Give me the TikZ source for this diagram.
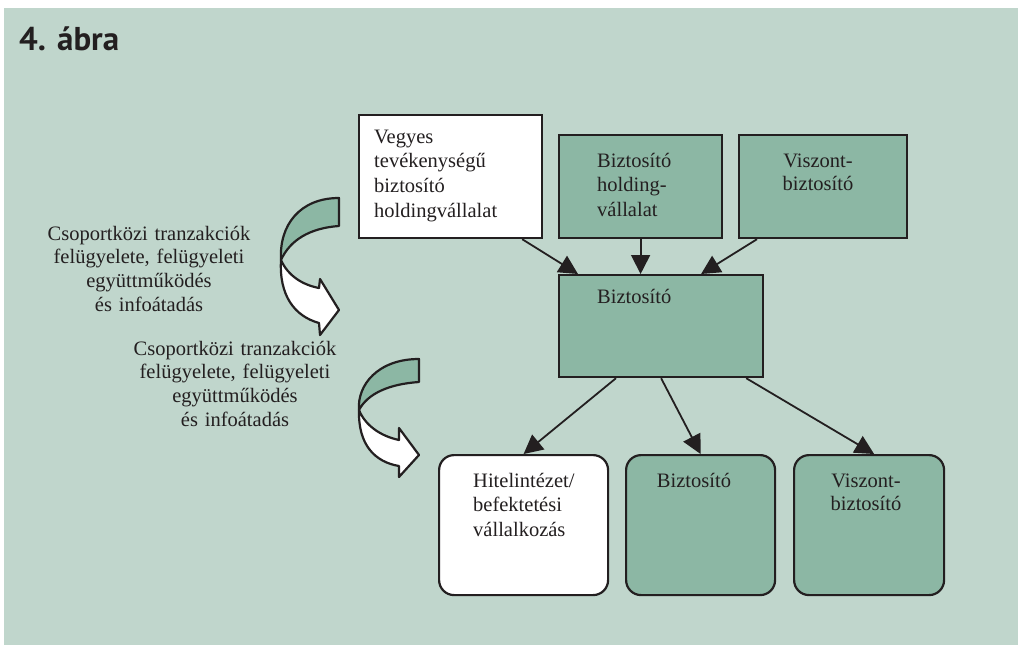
\documentclass[tikz,border=0pt]{standalone}
\usepackage{fontspec}
\setmainfont{Liberation Serif}
\newfontfamily\titlefont{PT Sans}
\usetikzlibrary{arrows.meta,calc}
\definecolor{bg}{RGB}{192,214,204}
\definecolor{boxgreen}{RGB}{140,183,164}
\definecolor{ink}{RGB}{35,31,32}
\begin{document}
\begin{tikzpicture}[x=1pt,y=-1pt,
  box/.style={draw=ink, line width=2.2pt, inner sep=0pt, anchor=north west},
  greenbox/.style={box, fill=boxgreen},
  whitebox/.style={box, fill=white},
  rbox/.style={rounded corners=15pt},
  conn/.style={draw=ink, line width=1.8pt, -{Triangle[length=19pt,width=19pt]}},
  txt/.style={inner sep=0pt, text=ink, font=\fontsize{20.5}{24.8}\selectfont, anchor=base west, align=left, text width=#1},
  ctxt/.style={inner sep=0pt, text=ink, font=\fontsize{20.5}{23.8}\selectfont, anchor=base, align=center, text width=#1},
  curve/.style={draw=ink, line width=2.2pt, line join=round},
]
\useasboundingbox (0,0) rectangle (1018,645);
\fill[bg] (4,8) rectangle (1018,645);

\node[anchor=base west, inner sep=0pt, text=ink, font=\titlefont\bfseries\fontsize{33}{38}\selectfont] (title) at (19,50) {4. ábra};

% top row
\node[whitebox, minimum width=183pt, minimum height=123pt] (b1) at (358,114) {};
\node[greenbox, minimum width=163pt, minimum height=103pt] (b2) at (558,134) {};
\node[greenbox, minimum width=168pt, minimum height=103pt] (b3) at (738,134) {};
% centre
\node[greenbox, minimum width=204pt, minimum height=102pt] (c) at (558,274) {};
% bottom row
\node[whitebox, rbox, minimum width=169pt, minimum height=140pt] (ba) at (438,454) {};
\node[greenbox, rbox, minimum width=149pt, minimum height=140pt] (bb) at (625,454) {};
\node[greenbox, rbox, minimum width=150pt, minimum height=140pt] (bc) at (793,454) {};

% texts
\node[txt=170pt] (t1) at (374,143) {Vegyes\\tevékenységű\\biztosító\\holdingvállalat};
\node[txt=120pt] (t2) at (597,167) {Biztosító\\holding-\\vállalat};
\node[ctxt=120pt] (t3) at (818,167) {Viszont-\\biztosító};
\node[txt=120pt] (tc) at (597,303) {Biztosító};
\node[txt=140pt] (ta) at (473,487) {Hitelintézet/\\befektetési\\vállalkozás};
\node[ctxt=120pt] (tb) at (694,487) {Biztosító};
\node[ctxt=120pt] (tcc) at (866,487) {Viszont-\\biztosító};
\node[ctxt=240pt] (s1) at (149,240) {Csoportközi tranzakciók\\felügyelete, felügyeleti\\együttműködés\\és infoátadás};
\node[ctxt=240pt] (s2) at (235,355) {Csoportközi tranzakciók\\felügyelete, felügyeleti\\együttműködés\\és infoátadás};

% connectors
\draw[conn] ([xshift=-21pt]b1.south east) -- ([xshift=20pt]c.north west);
\draw[conn] (b2.south) -- (b2.south |- c.north);
\draw[conn] ([xshift=19pt]b3.south west) -- ([xshift=40pt]c.north);
\draw[conn] ([xshift=58pt]c.south west) -- (ba.north);
\draw[conn] (c.south) -- (bb.north);
\draw[conn] ([xshift=-18pt]c.south east) -- ([xshift=5pt]bc.north);

% curved arrow 1
\filldraw[curve, fill=boxgreen] (339,198) .. controls (300,198) and (279,225) .. (281,260)
  .. controls (290,240) and (310,228) .. (339,226) -- cycle;
\filldraw[curve, fill=white] (281,260) .. controls (288,276) and (303,285) .. (319,288)
  -- (320,279) -- (339,310) -- (320,335) -- (319,323)
  .. controls (294,316) and (279,295) .. (281,260) -- cycle;
% curved arrow 2
\filldraw[curve, fill=boxgreen] (419,359) .. controls (378,359) and (357,385) .. (359,410)
  .. controls (368,393) and (390,384) .. (419,382) -- cycle;
\filldraw[curve, fill=white] (359,410) .. controls (365,425) and (380,436) .. (399,440)
  -- (399,428) -- (419,455) -- (399,477) -- (399,466)
  .. controls (375,462) and (358,445) .. (359,410) -- cycle;
\end{tikzpicture}
\end{document}
